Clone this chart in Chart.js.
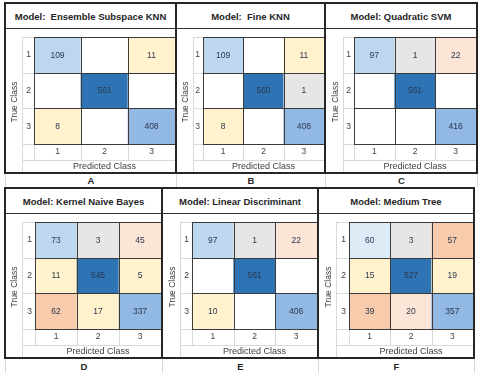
<!DOCTYPE html>
<html>
<head>
<meta charset="utf-8">
<script src="https://cdn.jsdelivr.net/npm/chart.js@4.4.0/dist/chart.umd.min.js"></script>
<style>
    html, body { margin: 0; padding: 0; background: #fff; }
    #sheet { position: relative; width: 480px; height: 375px; overflow: hidden;
             font-family: "Liberation Sans", Arial, sans-serif; color: #262626; }
    #sheet canvas { position: absolute; }
    .frame { position: absolute; box-sizing: border-box; border: 2px solid #262626; pointer-events: none; z-index: 3; }
    .title { position: absolute; box-sizing: border-box; border-bottom: 1px solid #333;
             display: flex; align-items: center; justify-content: center;
             font-weight: bold; font-size: 9.5px; white-space: pre; z-index: 2; }
    .ylab { position: absolute; font-size: 8.5px; white-space: nowrap; color: #404040;
            transform: translate(-50%, -50%) rotate(-90deg); z-index: 2; }
    .letter { position: absolute; box-sizing: border-box; border-left: 1px solid #d9d9d9; border-right: 1px solid #d9d9d9;
              display: flex; align-items: center; justify-content: center;
              font-weight: bold; font-size: 9.5px; }
</style>
</head>
<body>
<div id="sheet"></div>
<script>
// === DONNÉES ===
const classLabels = ['1', '2', '3'];
const panelLetters = ['A', 'B', 'C', 'D', 'E', 'F'];
const modelNames = [
    'Model:  Ensemble Subspace KNN',
    'Model:  Fine KNN',
    'Model: Quadratic SVM',
    'Model: Kernel Naive Bayes',
    'Model: Linear Discriminant',
    'Model: Medium Tree'
];
const ensembleSubspaceKnn = [[109, 0, 11], [0, 561, 0], [8, 0, 408]];
const fineKnn = [[109, 0, 11], [0, 560, 1], [8, 0, 408]];
const quadraticSvm = [[97, 1, 22], [0, 561, 0], [0, 0, 416]];
const kernelNaiveBayes = [[73, 3, 45], [11, 545, 5], [62, 17, 337]];
const linearDiscriminant = [[97, 1, 22], [0, 561, 0], [10, 0, 406]];
const mediumTree = [[60, 3, 57], [15, 527, 19], [39, 20, 357]];
const matrices = [ensembleSubspaceKnn, fineKnn, quadraticSvm, kernelNaiveBayes, linearDiscriminant, mediumTree];
const xAxisTitle = 'Predicted Class';
const yAxisTitle = 'True Class';

// === STYLES (couleurs de la mise en forme conditionnelle) ===
const PALETTE = {
    w: '#ffffff',
    b3: '#2e74b5',
    b2: '#92b8e4',
    b1: '#bdd7ee',
    b0: '#ddebf7',
    g: '#e7e6e6',
    y: '#fff2cc',
    p: '#fce4d6',
    o: '#f8cbad'
};
const SHADES = [
    [['b1', 'w', 'y'], ['w', 'b3', 'w'], ['y', 'w', 'b2']],
    [['b1', 'w', 'y'], ['w', 'b3', 'g'], ['y', 'w', 'b2']],
    [['b1', 'g', 'p'], ['w', 'b3', 'w'], ['w', 'w', 'b2']],
    [['b1', 'g', 'p'], ['y', 'b3', 'y'], ['o', 'y', 'b2']],
    [['b1', 'g', 'p'], ['w', 'b3', 'w'], ['y', 'w', 'b2']],
    [['b0', 'g', 'o'], ['y', 'b3', 'y'], ['o', 'p', 'b2']]
];

// === MISE EN PAGE ===
const ROWS = [
    { frameTop: 3, titleBottom: 28, matrixBottom: 144, tickBottom: 160, frameBottom: 173, labelBottom: 187 },
    { frameTop: 188, titleBottom: 213, matrixBottom: 329, tickBottom: 345, frameBottom: 358, labelBottom: 373 }
];
const PANELS = [
    { row: 0, x0: 5, x1: 176, numLeft: 22, cellsLeft: 34 },
    { row: 0, x0: 176, x1: 325, numLeft: 193, cellsLeft: 203 },
    { row: 0, x0: 325, x1: 477, numLeft: 343, cellsLeft: 354 },
    { row: 1, x0: 5, x1: 162, numLeft: 22, cellsLeft: 35 },
    { row: 1, x0: 162, x1: 318, numLeft: 180, cellsLeft: 192 },
    { row: 1, x0: 318, x1: 474, numLeft: 336, cellsLeft: 349 }
];
const FONT = '"Liberation Sans", Arial, sans-serif';

// === PLUGIN : quadrillage de la feuille + valeurs des cellules ===
const sheetGrid = {
    id: 'sheetGrid',
    beforeDraw(chart, args, opts) {
        const { ctx, chartArea: ca, scales } = chart;
        const nl = opts.numLeft + 0.5;
        const tb = opts.tickBottom + 0.5;
        ctx.save();
        ctx.strokeStyle = '#d9d9d9';
        ctx.lineWidth = 1;
        ctx.beginPath();
        ctx.moveTo(nl, ca.top);
        ctx.lineTo(nl, chart.height);
        ctx.moveTo(nl, tb);
        ctx.lineTo(ca.right, tb);
        for (let i = 0; i <= classLabels.length; i++) {
            const yy = Math.round(scales.y.getPixelForValue(i)) + 0.5;
            ctx.moveTo(nl, yy);
            ctx.lineTo(ca.left, yy);
            const xx = Math.round(ca.left + (ca.right - ca.left) * i / classLabels.length) + 0.5;
            ctx.moveTo(xx, ca.bottom);
            ctx.lineTo(xx, tb);
        }
        ctx.stroke();
        ctx.restore();
    },
    afterDatasetsDraw(chart) {
        const ctx = chart.ctx;
        ctx.save();
        ctx.font = '8.5px ' + FONT;
        ctx.textAlign = 'center';
        ctx.textBaseline = 'middle';
        chart.data.datasets.forEach((ds, r) => {
            chart.getDatasetMeta(r).data.forEach((bar, c) => {
                const { x, y, base, width } = bar.getProps(['x', 'y', 'base', 'width'], true);
                const left = Math.round(x - width / 2) + 0.5;
                const right = Math.round(x + width / 2) + 0.5;
                const top = Math.round(Math.min(y, base)) + 0.5;
                const bottom = Math.round(Math.max(y, base)) + 0.5;
                ctx.strokeStyle = '#3a3a3a';
                ctx.lineWidth = 1;
                ctx.strokeRect(left, top, right - left, bottom - top);
                const v = ds.counts[c];
                if (v) {
                    ctx.fillStyle = '#2b3950';
                    ctx.fillText(String(v), x, (y + base) / 2 + 0.5);
                }
            });
        });
        ctx.restore();
    }
};

// === CONSTRUCTION ===
const sheet = document.getElementById('sheet');

function addDiv(cls, css, text) {
    const d = document.createElement('div');
    d.className = cls;
    Object.assign(d.style, css);
    if (text !== undefined) d.textContent = text;
    sheet.appendChild(d);
    return d;
}

PANELS.forEach((p, k) => {
    const R = ROWS[p.row];
    const matrix = matrices[k];

    addDiv('frame', {
        left: (p.x0 - 1) + 'px', top: (R.frameTop - 1) + 'px',
        width: (p.x1 - p.x0 + 2) + 'px', height: (R.frameBottom - R.frameTop + 2) + 'px'
    });
    addDiv('title', {
        left: (p.x0 + 1) + 'px', top: (R.frameTop + 1) + 'px',
        width: (p.x1 - p.x0 - 2) + 'px', height: (R.titleBottom - R.frameTop) + 'px'
    }, modelNames[k]);
    addDiv('ylab', {
        left: ((p.x0 + p.numLeft) / 2 + 0.5) + 'px',
        top: ((R.titleBottom + R.frameBottom) / 2 + 1) + 'px'
    }, yAxisTitle);
    addDiv('letter', {
        left: p.x0 + 'px', top: (R.frameBottom + 1) + 'px',
        width: (p.x1 - p.x0 + 1) + 'px', height: (R.labelBottom - R.frameBottom - 1) + 'px'
    }, panelLetters[k]);

    const left = p.x0 + 1;
    const top = R.titleBottom + 1;
    const w = p.x1 - 1 - left;
    const h = R.frameBottom - 1 - top;
    const canvas = document.createElement('canvas');
    canvas.width = w;
    canvas.height = h;
    canvas.style.left = left + 'px';
    canvas.style.top = top + 'px';
    canvas.style.width = w + 'px';
    canvas.style.height = h + 'px';
    sheet.appendChild(canvas);

    const yWidth = p.cellsLeft - left;
    const xHeight = R.frameBottom - 1 - R.matrixBottom;

    new Chart(canvas, {
        type: 'bar',
        data: {
            labels: classLabels,
            datasets: matrix.map((row, r) => ({
                label: classLabels[r],
                counts: row,
                data: row.map(() => [r, r + 1]),
                backgroundColor: row.map((v, c) => PALETTE[SHADES[k][r][c]]),
                borderWidth: 0,
                barPercentage: 1,
                categoryPercentage: 1,
                grouped: false
            }))
        },
        options: {
            responsive: false,
            animation: false,
            events: [],
            layout: { padding: 0 },
            plugins: {
                legend: { display: false },
                tooltip: { enabled: false },
                sheetGrid: { numLeft: p.numLeft - left, tickBottom: R.tickBottom - top }
            },
            scales: {
                x: {
                    grid: { display: false, drawTicks: false },
                    border: { display: false },
                    ticks: { color: '#404040', font: { family: FONT, size: 8.5 }, padding: 3 },
                    title: {
                        display: true, text: xAxisTitle, color: '#404040',
                        font: { family: FONT, size: 9 }, padding: { top: 0.5, bottom: 0 }
                    },
                    afterFit: s => { s.height = xHeight; }
                },
                y: {
                    type: 'linear',
                    min: 0,
                    max: classLabels.length,
                    reverse: true,
                    grid: { display: false, drawTicks: false },
                    border: { display: false },
                    afterBuildTicks: s => { s.ticks = classLabels.map((_, i) => ({ value: i + 0.5 })); },
                    ticks: {
                        color: '#404040', font: { family: FONT, size: 8.5 }, padding: 3,
                        callback: v => classLabels[Math.floor(v)]
                    },
                    afterFit: s => { s.width = yWidth; }
                }
            }
        },
        plugins: [sheetGrid]
    });
});
</script>
</body>
</html>
